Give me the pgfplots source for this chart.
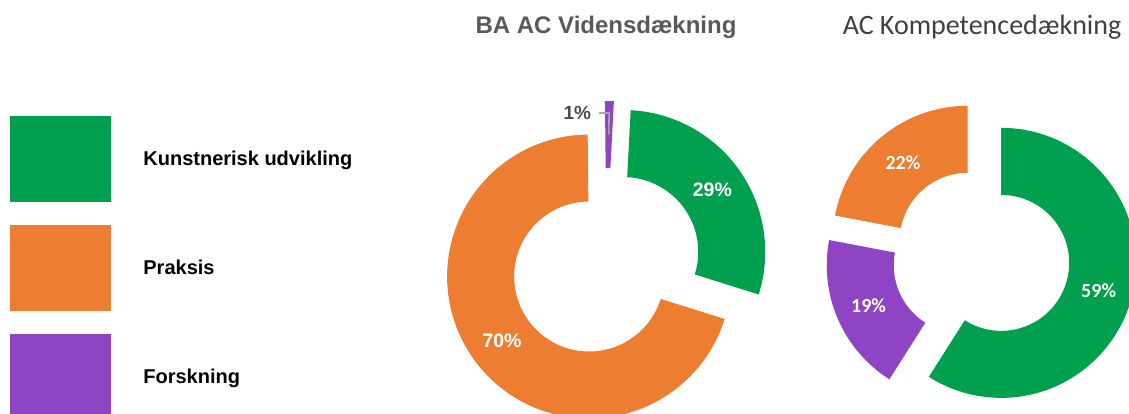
\documentclass[border=0pt]{standalone}
\usepackage{pgfplots}
\pgfplotsset{compat=1.18}
\usepackage{pgfplotstable}
\usepackage{fontspec}
\setmainfont{Liberation Sans}
\newfontfamily\carlito{Carlito}
\definecolor{kgreen}{HTML}{00A04F}
\definecolor{korange}{HTML}{ED7D31}
\definecolor{kpurple}{HTML}{8E44C3}
\definecolor{ttlgray}{HTML}{595959}
\definecolor{ttlgrayb}{HTML}{404040}
\definecolor{lblgray}{HTML}{4A4A4A}
\definecolor{leadgray}{HTML}{A6A6A6}

% BA AC Vidensdaekning (clockwise drawing order)
\pgfplotstableread{
cat value
Kunstnerisk 29
Praksis 70
Forskning 1
}\dataA
% AC Kompetencedaekning (clockwise drawing order)
\pgfplotstableread{
cat value
Kunstnerisk 59
Forskning 19
Praksis 22
}\dataB

\newcommand\setdonut[5]{\def\dcx{#1}\def\dcy{#2}\def\dR{#3}\def\dr{#4}\def\dd{#5}}
% #1 clockwise start angle, #2 clockwise end angle (from 12 o'clock), #3 colour
\newcommand\slice[3]{%
 \pgfmathsetmacro\aOne{90-(#2)}%
 \pgfmathsetmacro\aTwo{90-(#1)}%
 \pgfmathsetmacro\aMid{90-((#1)+(#2))/2}%
 \pgfmathsetmacro\sx{\dcx+\dd*cos(\aMid)}%
 \pgfmathsetmacro\sy{\dcy+\dd*sin(\aMid)}%
 \pgfmathsetmacro\ix{\sx+\dr*cos(\aOne)}%
 \pgfmathsetmacro\iy{\sy+\dr*sin(\aOne)}%
 \pgfmathsetmacro\ox{\sx+\dR*cos(\aTwo)}%
 \pgfmathsetmacro\oy{\sy+\dR*sin(\aTwo)}%
 \pgfmathsetmacro\lx{\sx+(\dR+\dr)/2*cos(\aMid)}%
 \pgfmathsetmacro\ly{\sy+(\dR+\dr)/2*sin(\aMid)}%
 \edef\tmp{\noexpand\fill[#3] (axis cs:\ix,\iy) arc[start angle=\aOne, end angle=\aTwo, radius=\dr pt] -- (axis cs:\ox,\oy) arc[start angle=\aTwo, end angle=\aOne, radius=\dR pt] -- cycle;}\tmp
}
\newcommand\slicelabel[2]{%
 \edef\tmp{\noexpand\node[\unexpanded{#2}] at (axis cs:\lx,\ly) {#1\noexpand\%};}\tmp
}

\begin{document}
\begin{tikzpicture}
\pgfplotstablegetelem{0}{value}\of\dataA \let\Aa\pgfplotsretval
\pgfplotstablegetelem{1}{value}\of\dataA \let\Ab\pgfplotsretval
\pgfplotstablegetelem{2}{value}\of\dataA \let\Ac\pgfplotsretval
\pgfplotstablegetelem{0}{value}\of\dataB \let\Ba\pgfplotsretval
\pgfplotstablegetelem{1}{value}\of\dataB \let\Bb\pgfplotsretval
\pgfplotstablegetelem{2}{value}\of\dataB \let\Bc\pgfplotsretval
\pgfmathsetmacro\Azero{3}
\pgfmathsetmacro\Aone{\Azero+\Aa*3.6}
\pgfmathsetmacro\Atwo{\Aone+\Ab*3.6}
\pgfmathsetmacro\Athree{\Atwo+\Ac*3.6}
\pgfmathsetmacro\Bzero{0}
\pgfmathsetmacro\Bone{\Bzero+\Ba*3.6}
\pgfmathsetmacro\Btwo{\Bone+\Bb*3.6}
\pgfmathsetmacro\Bthree{\Btwo+\Bc*3.6}
\useasboundingbox (0,0) rectangle (1129pt,414pt);
\begin{axis}[
  at={(0,0)}, anchor=south west,
  x=1pt, y=1pt,
  xmin=0, xmax=1129, ymin=0, ymax=414,
  hide axis,
  legend cell align=left,
  legend style={at={(0.008857,0.71981)}, anchor=north west, draw=none, fill=none,
    inner sep=0pt, outer sep=0pt, row sep=23.5pt, column sep=33pt,
    font=\bfseries\fontsize{20}{24}\selectfont,
    nodes={inner sep=0pt, text height=14.3pt, text depth=0pt},
    cells={anchor=west}},
]
\addlegendimage{legend image code/.code={\fill[kgreen] (0pt,-42.5pt) rectangle (100pt,42.5pt);}}
\addlegendentry{Kunstnerisk udvikling}
\addlegendimage{legend image code/.code={\fill[korange] (0pt,-42.5pt) rectangle (100pt,42.5pt);}}
\addlegendentry{Praksis}
\addlegendimage{legend image code/.code={\fill[kpurple] (0pt,-42.5pt) rectangle (100pt,42.5pt);}}
\addlegendentry{Forskning}

% donut 1
\setdonut{606}{150}{142}{75}{21}
\slice{\Azero}{\Aone}{kgreen}
\slicelabel{\Aa}{text=white, font=\bfseries\fontsize{19.5}{22}\selectfont}
\slice{\Aone}{\Atwo}{korange}
\slicelabel{\Ab}{text=white, font=\bfseries\fontsize{19.5}{22}\selectfont}
\slice{\Atwo}{\Athree}{kpurple}
\pgfmathsetmacro\ebx{\sx+(\dR-12)*cos(\aMid)}
\pgfmathsetmacro\eby{\sy+(\dR-12)*sin(\aMid)}
\pgfmathsetmacro\ebxx{\ebx-10}
\pgfmathsetmacro\lbx{\ebx-18}
\edef\tmp{\noexpand\draw[leadgray, line width=1.6pt] (axis cs:\lx,\ly) -- (axis cs:\ebx,\eby) -- (axis cs:\ebxx,\eby);}\tmp
\edef\tmp{\noexpand\node[anchor=east, inner sep=0pt, text=lblgray, font=\noexpand\bfseries\noexpand\fontsize{19}{22}\noexpand\selectfont] at (axis cs:\lbx,\eby) {\Ac\noexpand\%};}\tmp

% donut 2
\setdonut{981}{157}{135}{68}{21}
\slice{\Bzero}{\Bone}{kgreen}
\slicelabel{\Ba}{text=white, font=\carlito\bfseries\fontsize{20}{24}\selectfont}
\slice{\Bone}{\Btwo}{kpurple}
\slicelabel{\Bb}{text=white, font=\carlito\bfseries\fontsize{20}{24}\selectfont}
\slice{\Btwo}{\Bthree}{korange}
\slicelabel{\Bc}{text=white, font=\carlito\bfseries\fontsize{20}{24}\selectfont}

% titles
\node[anchor=base, text=ttlgray, font=\bfseries\fontsize{24}{28}\selectfont] at (axis cs:606,380) {BA AC Vidensdækning};
\node[anchor=base, text=ttlgrayb, font=\carlito\fontsize{28}{32}\selectfont] at (axis cs:982,379) {AC Kompetencedækning};
\end{axis}
\end{tikzpicture}
\end{document}
